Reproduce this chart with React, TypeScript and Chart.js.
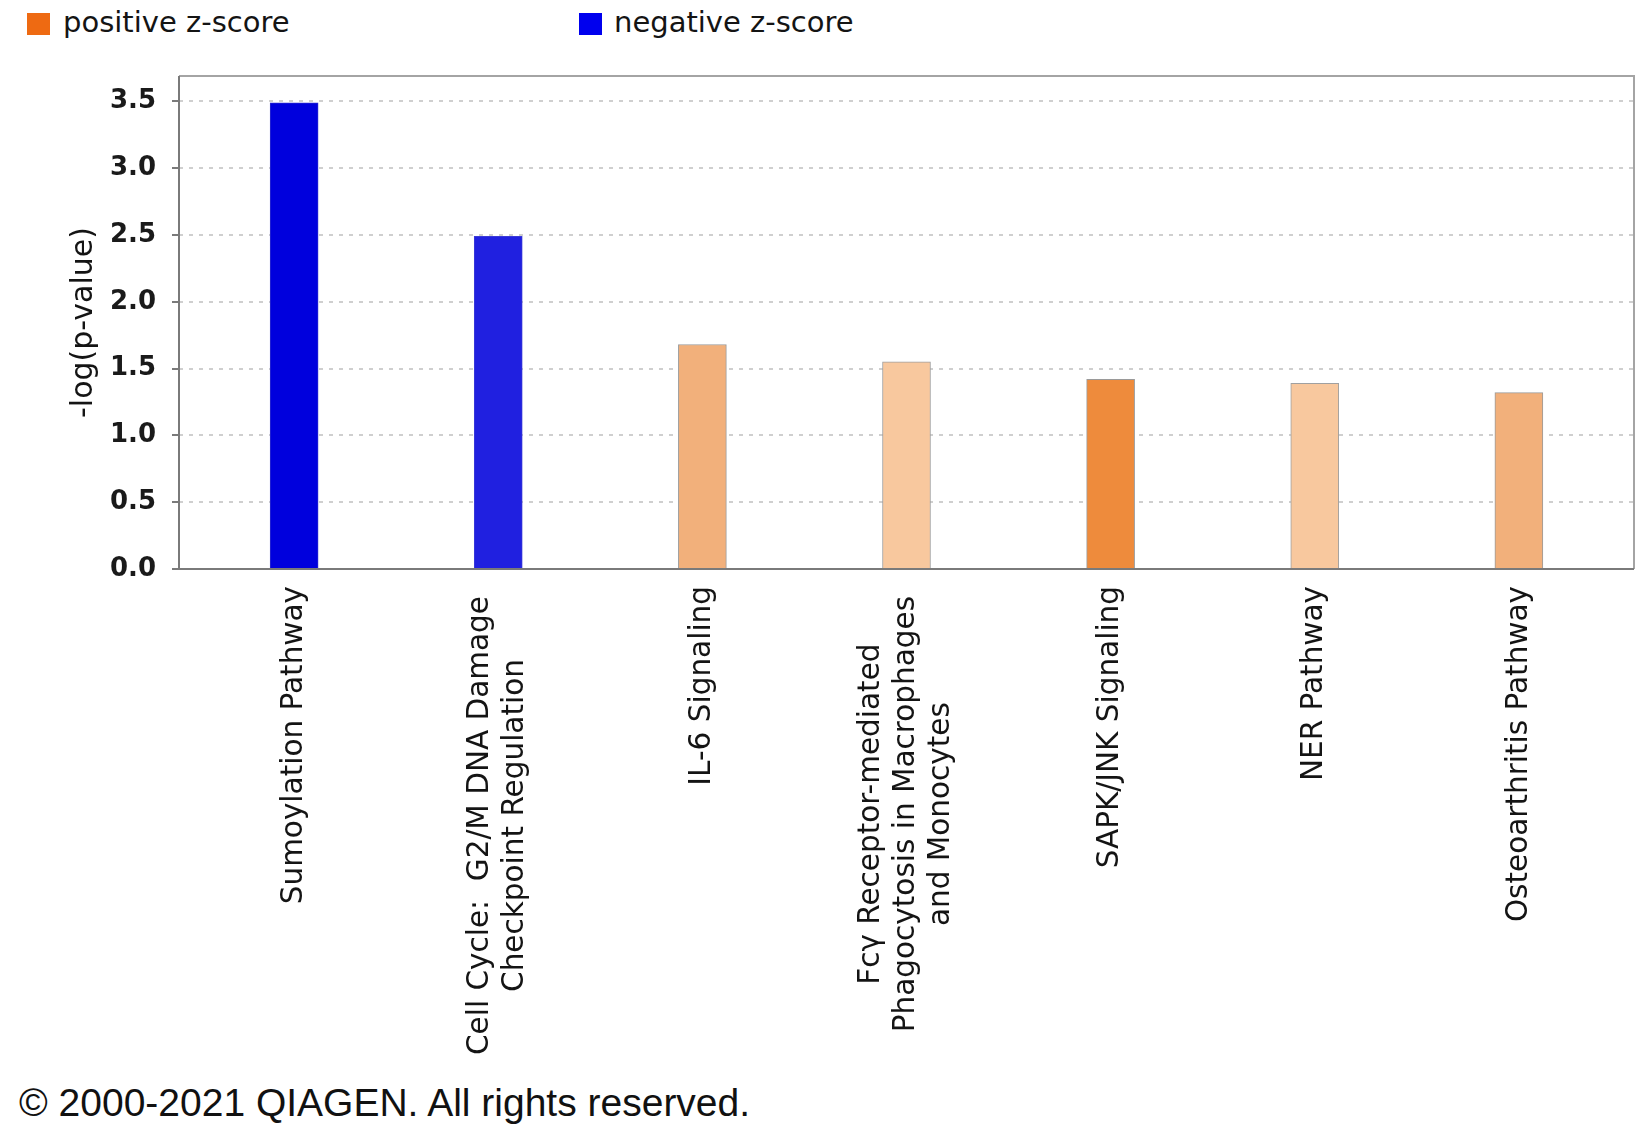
import { useEffect, useRef } from 'react';
import { Chart, registerables } from 'chart.js';

Chart.register(...registerables);

const pathways: string[][] = [
  ['Sumoylation Pathway'],
  ['Cell Cycle:  G2/M DNA Damage', 'Checkpoint Regulation'],
  ['IL-6 Signaling'],
  ['Fcγ Receptor-mediated', 'Phagocytosis in Macrophages', 'and Monocytes'],
  ['SAPK/JNK Signaling'],
  ['NER Pathway'],
  ['Osteoarthritis Pathway'],
];
const logP = [3.49, 2.49, 1.68, 1.55, 1.42, 1.39, 1.32];
const yTicks = [0, 0.5, 1.0, 1.5, 2.0, 2.5, 3.0, 3.5];

const barColors = ['#0000DD', '#2020E0', '#F2B07B', '#F8C89E', '#EE8B3C', '#F8C89E', '#F2B07B'];
const barBorders = ['#2a2ad0', '#3a3ad8', '#9a9a9a', '#a0a0a0', '#9a9a9a', '#a0a0a0', '#9a9a9a'];

const CANVAS_W = 1647;
const CANVAS_H = 1075;
const PLOT_LEFT = 179;
const PLOT_TOP = 76;
const PLOT_RIGHT = 1634;
const PLOT_BOTTOM = 569;
const FONT = '"DejaVu Sans", Verdana, sans-serif';

// frame round the plot area
const frame = {
  id: 'frame',
  afterDatasetsDraw(chart: Chart) {
    const { ctx, chartArea: a } = chart;
    ctx.save();
    ctx.lineWidth = 2;
    ctx.strokeStyle = '#a4a4a4';
    ctx.beginPath();
    ctx.moveTo(a.left, a.top);
    ctx.lineTo(a.right, a.top);
    ctx.lineTo(a.right, a.bottom);
    ctx.stroke();
    ctx.strokeStyle = '#7a7a7a';
    ctx.beginPath();
    ctx.moveTo(a.left, a.top);
    ctx.lineTo(a.left, a.bottom);
    ctx.lineTo(a.right, a.bottom);
    ctx.stroke();
    ctx.restore();
  },
};

// vertical, centred multi-line category labels
const categoryLabels = {
  id: 'categoryLabels',
  afterDraw(chart: Chart) {
    const { ctx, chartArea: a } = chart;
    const xs = chart.scales.x;
    ctx.save();
    ctx.font = `29.5px ${FONT}`;
    ctx.fillStyle = '#141414';
    ctx.textAlign = 'center';
    ctx.textBaseline = 'middle';
    pathways.forEach((lines, i) => {
      const x = xs.getPixelForValue(i);
      const w = Math.max(...lines.map((l) => ctx.measureText(l).width));
      const gap = lines.length > 1 ? 27 : 17;
      ctx.save();
      ctx.translate(x, a.bottom + gap + w / 2);
      ctx.rotate(-Math.PI / 2);
      lines.forEach((l, k) => ctx.fillText(l, 0, (k - (lines.length - 1) / 2) * 35));
      ctx.restore();
    });
    ctx.restore();
  },
};

export default function App() {
  const canvasRef = useRef<HTMLCanvasElement>(null);
  const chartRef = useRef<Chart | null>(null);

  useEffect(() => {
    document.body.style.margin = '0';
    if (!canvasRef.current) return;
    if (chartRef.current) chartRef.current.destroy();

    chartRef.current = new Chart(canvasRef.current, {
      type: 'bar',
      data: {
        datasets: [
          {
            data: logP.map((v, i) => ({ x: i, y: v })),
            backgroundColor: barColors,
            borderColor: barBorders,
            borderWidth: 1,
            barThickness: 48,
          },
        ],
      },
      options: {
        responsive: true,
        maintainAspectRatio: false,
        animation: false,
        layout: { padding: { top: PLOT_TOP, right: CANVAS_W - PLOT_RIGHT, left: 0, bottom: 0 } },
        plugins: { legend: { display: false }, tooltip: { enabled: false } },
        scales: {
          x: {
            type: 'linear',
            offset: false,
            min: -0.564,
            max: pathways.length - 1 + 0.564,
            grid: { display: false },
            border: { display: false },
            ticks: { display: false },
            afterFit: (s: any) => {
              s.height = CANVAS_H - PLOT_BOTTOM;
            },
          },
          y: {
            min: 0,
            max: 3.69,
            afterFit: (s: any) => {
              s.width = PLOT_LEFT;
            },
            afterBuildTicks: (s: any) => {
              s.ticks = yTicks.map((v) => ({ value: v }));
            },
            ticks: {
              padding: 16,
              color: '#1a1a1a',
              font: { family: FONT, size: 26, weight: 'bold' },
              callback: (v: any) => Number(v).toFixed(1),
            },
            grid: {
              color: '#cfcfcf',
              lineWidth: 2,
              tickLength: 7,
              tickColor: '#7a7a7a',
              tickWidth: 2,
              tickBorderDash: [],
            },
            border: { display: false, dash: [4, 6] },
            title: {
              display: true,
              text: '-log(p-value)',
              color: '#141414',
              font: { family: FONT, size: 30 },
              padding: { top: 66, bottom: 0 },
            },
          },
        },
      },
      plugins: [frame, categoryLabels],
    });

    return () => chartRef.current?.destroy();
  }, []);

  const legendText: React.CSSProperties = {
    position: 'absolute',
    top: 8,
    fontFamily: FONT,
    fontSize: 29,
    lineHeight: '29px',
    color: '#141414',
    whiteSpace: 'nowrap',
  };
  const swatch: React.CSSProperties = { position: 'absolute', top: 13, width: 23, height: 22 };

  return (
    <div style={{ position: 'relative', width: CANVAS_W, height: 1137, background: '#fff', overflow: 'hidden' }}>
      <div style={{ ...swatch, left: 27, background: '#EE6A12' }} />
      <div style={{ ...legendText, left: 63 }}>positive z-score</div>
      <div style={{ ...swatch, left: 579, background: '#0000EE' }} />
      <div style={{ ...legendText, left: 614 }}>negative z-score</div>
      <div style={{ position: 'absolute', left: 0, top: 0, width: CANVAS_W, height: CANVAS_H }}>
        <canvas ref={canvasRef} />
      </div>
      <div
        style={{
          position: 'absolute',
          left: 19,
          top: 1083,
          fontFamily: '"Liberation Sans", Arial, sans-serif',
          fontSize: 39,
          lineHeight: '39px',
          color: '#111',
          whiteSpace: 'nowrap',
        }}
      >
        © 2000-2021 QIAGEN. All rights reserved.
      </div>
    </div>
  );
}
